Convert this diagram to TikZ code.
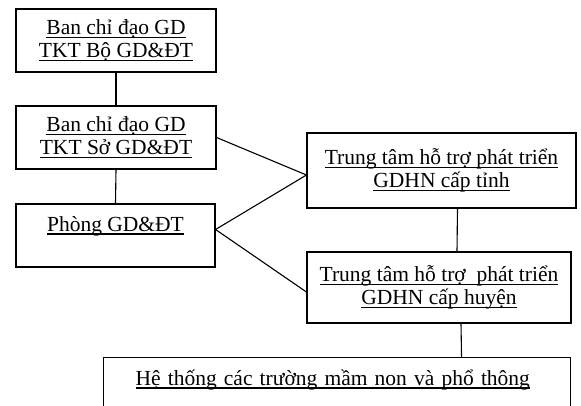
\documentclass[tikz,border=0pt]{standalone}
\usepackage{fontspec}
\setmainfont{Liberation Serif}
\usepackage{tikz}
\newcommand\gach[1]{\setbox0\hbox{#1}\rlap{\vrule height -2pt depth 3.2pt width \wd0}\box0}
\tikzset{
	hop/.style={draw,line width=1.1pt,align=center,inner sep=0pt,
		font=\fontsize{21.5}{23}\selectfont},
	noi/.style={line width=1.1pt}
}

\begin{document}
\begin{tikzpicture}[x=1pt,y=-1pt]
			\useasboundingbox (0,0) rectangle (581,405);
			% cot trai
			\node[hop,minimum width=200,minimum height=63] (bo) at (116,40.5) {\gach{Ban chỉ đạo GD}\\\gach{TKT Bộ GD\&ĐT}};
			\node[hop,minimum width=200,minimum height=63] (so) at (116,137.5) {\gach{Ban chỉ đạo GD}\\\gach{TKT Sở GD\&ĐT}};
			\node[hop,minimum width=199,minimum height=63] (phong) at (115.5,235.5) {\gach{Phòng GD\&ĐT}\\\mbox{}};
			% cot phai
			\node[hop,minimum width=269,minimum height=75] (tinh) at (441.5,170.5) {\gach{Trung tâm hỗ trợ phát triển}\\\gach{GDHN cấp tỉnh}};
			\node[hop,minimum width=264,minimum height=71] (huyen) at (439,287.5) {\gach{Trung tâm hỗ trợ\ \ phát triển}\\\gach{GDHN cấp huyện}};
			% truong hoc
			\node[hop,anchor=north west,text width=403,inner xsep=32,align=left,minimum height=63] (truong) at (103,357) {\gach{Hệ thống các trường mầm non và phổ thông}\\\mbox{}};
			% duong noi
			\draw[noi] (bo.south) -- (so.north);
			\draw[noi] (so.south) -- (phong.north);
			\draw[noi] (so.east) -- ([yshift=-4.5pt]tinh.west);
			\draw[noi] ([yshift=6pt]phong.east) -- ([yshift=-4.5pt]tinh.west);
			\draw[noi] ([yshift=6pt]phong.east) -- ([yshift=-4.5pt]huyen.west);
			\draw[noi] ([xshift=16pt]tinh.south) -- ([xshift=18pt]huyen.north);
			\draw[noi] ([xshift=22pt]huyen.south) -- ([xshift=124.5pt]truong.north);
		\end{tikzpicture}
\end{document}
